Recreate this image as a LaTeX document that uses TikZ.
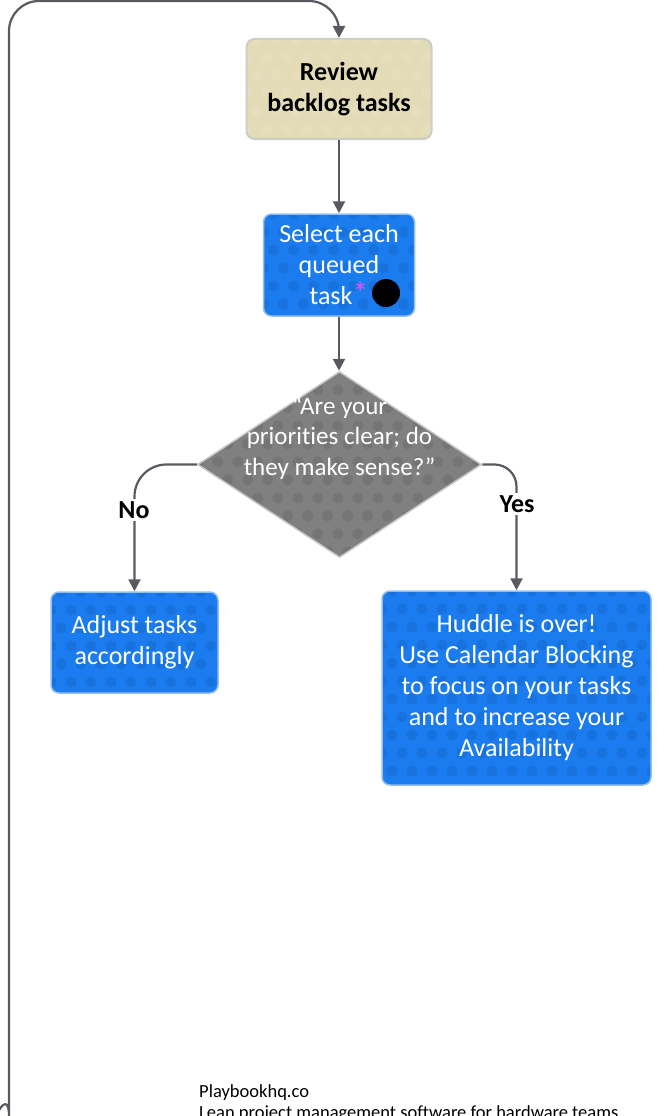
\documentclass[tikz,border=0pt]{standalone}
\usepackage{fontspec}
\setmainfont{Carlito}[Ligatures={TeX,NoCommon}]
\usetikzlibrary{arrows.meta,shapes.geometric,calc}
\definecolor{boxblue}{RGB}{27,124,240}
\definecolor{blueedge}{RGB}{150,190,235}
\definecolor{beige}{RGB}{227,219,182}
\definecolor{beigeedge}{RGB}{205,205,200}
\definecolor{diagrey}{RGB}{128,128,128}
\definecolor{diaedge}{RGB}{200,200,200}
\definecolor{linegrey}{RGB}{88,90,96}
\definecolor{pinkstar}{RGB}{230,80,240}
\tikzset{
  dots/.style={path picture={
    \foreach \i in {0,...,16}{\foreach \j in {0,...,12}{
      \pgfmathsetmacro{\xo}{mod(\j,2)*10}
      \fill[#1,opacity=.08] ($(path picture bounding box.north west)+(\i*20+\xo-10,\j*18)$) circle (5.5);
    }}}},
  bluebox/.style={draw=blueedge, line width=1.5pt, fill=boxblue, rounded corners=8pt,
    text=white, align=center, font=\fontsize{26}{31}\selectfont, inner sep=0pt, dots=black},
  beigebox/.style={draw=beigeedge, line width=2pt, fill=beige, rounded corners=8pt,
    text=black, align=center, font=\fontsize{26}{31}\selectfont\bfseries, inner sep=0pt, dots=white},
  dia/.style={diamond, draw=diaedge, line width=1.5pt, fill=diagrey, inner sep=0pt,
    minimum width=284pt, minimum height=186pt, dots=black},
  diatext/.style={text=white, align=center, font=\fontsize{25}{30.5}\selectfont, inner sep=0pt},
  conn/.style={draw=linegrey, line width=2.2pt},
  arr/.style={conn, -{Triangle[length=12pt,width=12pt]}},
  lbl/.style={fill=white, font=\fontsize{26}{30}\selectfont\bfseries, inner sep=2pt},
  foot/.style={font=\fontsize{18.5}{22}\selectfont, anchor=base west, inner sep=0pt},
}
\begin{document}
\begin{tikzpicture}[x=1pt,y=-1pt]
\useasboundingbox (0,0) rectangle (667,1116);
\node[beigebox, minimum width=185pt, minimum height=100pt] (review) at (339,89) {Review\\backlog tasks};
\node[bluebox, minimum width=151pt, minimum height=102pt] (select) at (339,265) {Select each\\queued\\task\textcolor{pinkstar}{\fontsize{32}{31}\selectfont*}};
\node[circle, fill=black, minimum size=28pt, inner sep=0pt] (dot) at (386,293) {};
\node[dia] (d) at (339.5,464.5) {};
\node[diatext] (dt) at (339.5,437.5) {\textquotedblleft Are your\\priorities clear; do\\they make sense?\textquotedblright};
\node[bluebox, minimum width=167pt, minimum height=101pt] (adjust) at (134.5,642.5) {Adjust tasks\\accordingly};
\node[bluebox, minimum width=269pt, minimum height=194pt] (huddle) at (516.5,688) {Huddle is over!\\Use Calendar Blocking\\to focus on your tasks\\and to increase your\\Availability};

\draw[arr] (review.south) -- (select.north);
\draw[arr] (select.south) -- (select.south |- d.north);
\draw[arr, rounded corners=32pt] (d.west) -- (d.west -| adjust.north) -- (adjust.north);
\draw[arr, rounded corners=22pt] (d.east) -- (d.east -| huddle.north) -- (huddle.north);
\node[lbl] (no) at (134,510) {No};
\node[lbl] (yes) at (517,504) {Yes};

\coordinate (ls) at (-3,1114);
\coordinate (lc) at (9,1086);
\draw[arr, rounded corners=30pt] (ls) to[out=65,in=-90] (lc) -- (9,1) -- (review.north |- 0,1) -- (review.north);

\node[foot] (f1) at (199,1097) {Playbookhq.co};
\node[foot] (f2) at (199,1118) {Lean project management software for hardware teams};
\end{tikzpicture}
\end{document}
